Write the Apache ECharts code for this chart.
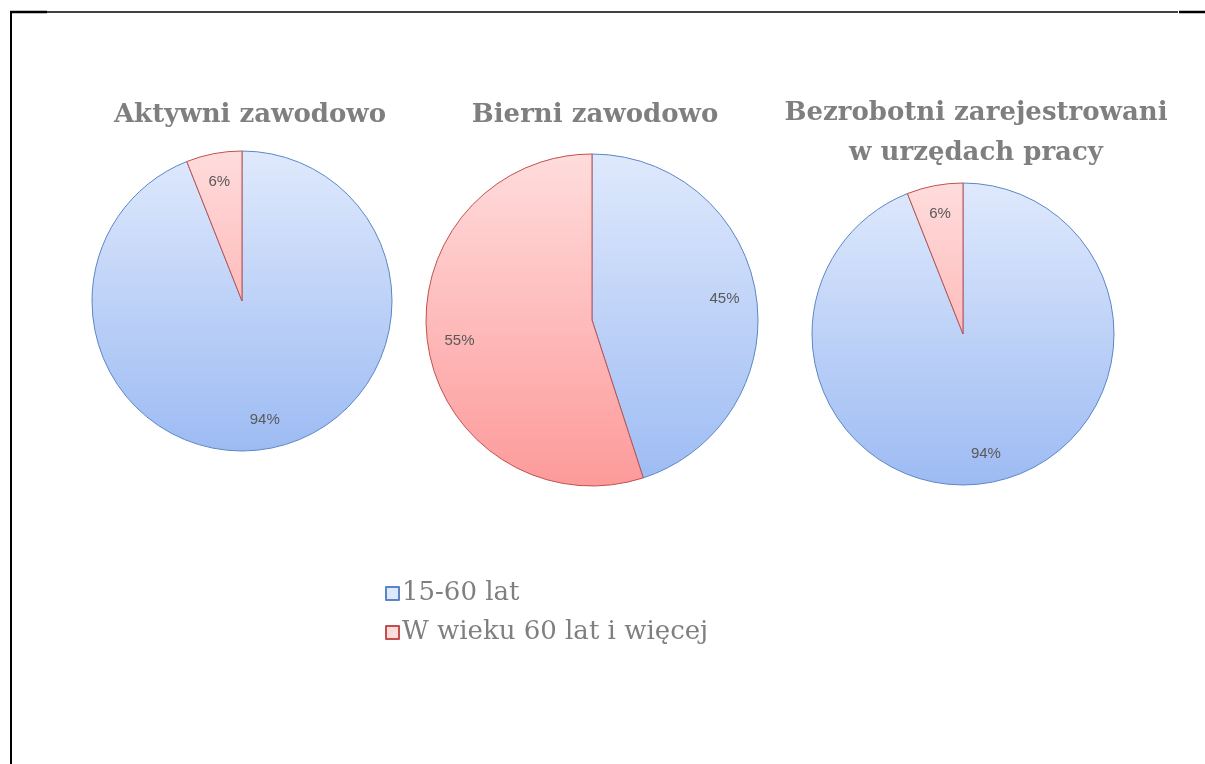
<!DOCTYPE html>
<html><head><meta charset="utf-8">
<script src="https://cdn.jsdelivr.net/npm/echarts@6/dist/echarts.min.js"></script>
<style>html,body{margin:0;padding:0;background:#fff}#c{width:1205px;height:764px}</style>
</head><body><div id="c"></div>
<script>
const categories = ['15-60 lat', 'W wieku 60 lat i więcej'];
const groupTitles = ['Aktywni zawodowo', 'Bierni zawodowo', 'Bezrobotni zarejestrowani\nw urzędach pracy'];
const aktywni = [94, 6];
const bierni = [45, 55];
const bezrobotni = [94, 6];
const groups = [aktywni, bierni, bezrobotni];

// layout (not data)
const pieLayout = [
  { cx: 242, cy: 301, r: 150, tx: 250, ty: 95 },
  { cx: 592, cy: 320, r: 166, tx: 595, ty: 95 },
  { cx: 963, cy: 334, r: 151, tx: 976, ty: 93 }
];
const blueStops = [{ offset: 0, color: '#dfe9fc' }, { offset: 1, color: '#9dbbf3' }];
const redStops = [{ offset: 0, color: '#ffdcdc' }, { offset: 1, color: '#fd9a9a' }];
const borderColors = ['#5a86c5', '#c0504d'];

const chart = echarts.init(document.getElementById('c'));
const series = [];
const titles = [];
groups.forEach((vals, gi) => {
  const L = pieLayout[gi];
  const grads = [blueStops, redStops].map(st =>
    new echarts.graphic.LinearGradient(0, L.cy - L.r, 0, L.cy + L.r, st, true));
  series.push({
    type: 'pie', name: groupTitles[gi],
    center: [L.cx, L.cy], radius: [0, L.r],
    startAngle: 90, clockwise: true,
    label: { show: false }, labelLine: { show: false },
    emphasis: { disabled: true },
    data: vals.map((v, i) => ({
      name: categories[i], value: v,
      itemStyle: { color: grads[i], borderColor: borderColors[i], borderWidth: 1 }
    }))
  });
  // invisible ring just for label placement
  series.push({
    type: 'pie', name: groupTitles[gi] + ' labels',
    center: [L.cx, L.cy], radius: [L.r * 0.58, L.r],
    startAngle: 90, clockwise: true, silent: true, z: 3,
    emphasis: { disabled: true },
    labelLine: { show: false },
    label: {
      show: true, position: 'inside', formatter: '{c}%',
      color: '#595959', fontSize: 15, fontFamily: 'Liberation Sans, Arial, sans-serif'
    },
    itemStyle: { color: 'rgba(0,0,0,0)', borderWidth: 0 },
    data: vals.map((v, i) => ({ name: categories[i], value: v }))
  });
  titles.push({
    text: groupTitles[gi], left: L.tx, top: L.ty, textAlign: 'center', padding: 0,
    textStyle: { color: '#7f7f7f', fontSize: 26, fontWeight: 'bold',
      fontFamily: 'DejaVu Serif, serif', lineHeight: 40 }
  });
});

chart.setOption({
  animation: false,
  title: titles,
  legend: {
    data: categories, orient: 'vertical', left: 380, top: 574,
    icon: 'rect', itemWidth: 13, itemHeight: 13, itemGap: 10,
    textStyle: { color: '#7f7f7f', fontSize: 26, fontFamily: 'DejaVu Serif, serif', lineHeight: 29, padding: [0, 0, 0, -2] }
  },
  graphic: [
    { type: 'line', shape: { x1: 11, y1: 11, x2: 11, y2: 764 }, style: { stroke: '#000', lineWidth: 2 } },
    { type: 'line', shape: { x1: 10, y1: 12, x2: 1178, y2: 12 }, style: { stroke: '#000', lineWidth: 1.3 } },
    { type: 'line', shape: { x1: 10, y1: 12, x2: 47, y2: 12 }, style: { stroke: '#000', lineWidth: 2.5 } },
    { type: 'line', shape: { x1: 1179, y1: 12, x2: 1205, y2: 12 }, style: { stroke: '#000', lineWidth: 2.5 } }
  ],
  series: series
});
</script></body></html>
